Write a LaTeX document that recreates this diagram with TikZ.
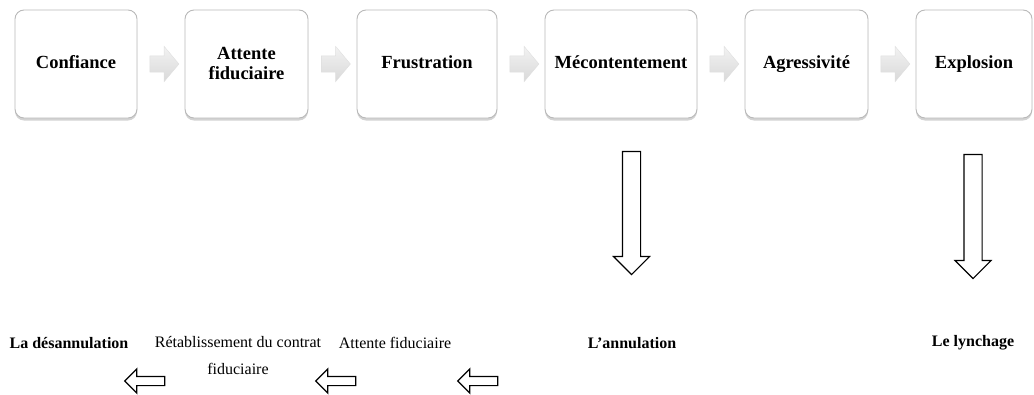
\documentclass[tikz,border=0pt]{standalone}
\usepackage{fontspec}
\setmainfont{Liberation Serif}
\usetikzlibrary{shapes.arrows,shadows,calc}

\begin{document}
\begin{tikzpicture}[x=1pt, y=-1pt,
    etape/.style={rectangle, rounded corners=9pt, draw=gray!55, line width=0.9pt,
        fill=white, minimum height=108pt, inner sep=2pt, align=center,
        font=\fontsize{18.5}{20}\selectfont\bfseries,
        drop shadow={shadow xshift=0pt, shadow yshift=-2.5pt, opacity=0.35}},
    uneligne/.style={text height=12.5pt, text depth=4pt},
    flechegrise/.style={single arrow, draw=gray!25, top color=gray!10, bottom color=gray!30,
        inner sep=8pt, minimum height=29pt, single arrow head extend=9.5pt,
        single arrow tip angle=100},
    flechebas/.style={single arrow, shape border rotate=270, draw=black, line width=1.1pt,
        fill=white, inner sep=8.5pt, single arrow head extend=9pt},
    flechegauche/.style={single arrow, shape border rotate=180, draw=black, line width=1.2pt,
        fill=white, inner sep=4pt, minimum height=40pt, single arrow head extend=7.5pt},
    issue/.style={font=\fontsize{16}{18}\selectfont\bfseries},
    retour/.style={font=\fontsize{16}{27}\selectfont, align=center}
]
    \useasboundingbox (0,0) rectangle (1034,394);
    % la chaine du haut
    \node[etape, uneligne, minimum width=122pt] (confiance) at (76,64) {Confiance};
    \node[etape, minimum width=123pt] (attente) at (246.5,64) {Attente\\fiduciaire};
    \node[etape, uneligne, minimum width=140pt] (frustration) at (427,64) {Frustration};
    \node[etape, uneligne, minimum width=152pt] (mecontent) at (621,64) {Mécontentement};
    \node[etape, uneligne, minimum width=123pt] (agressivite) at (806.5,64) {Agressivité};
    \node[etape, uneligne, minimum width=116pt] (explosion) at (974,64) {Explosion};
    \node[flechegrise] (f1) at ($(confiance.east)!0.5!(attente.west)$) {};
    \node[flechegrise] (f2) at ($(attente.east)!0.5!(frustration.west)$) {};
    \node[flechegrise] (f3) at ($(frustration.east)!0.5!(mecontent.west)$) {};
    \node[flechegrise] (f4) at ($(mecontent.east)!0.5!(agressivite.west)$) {};
    \node[flechegrise] (f5) at ($(agressivite.east)!0.5!(explosion.west)$) {};
    % les deux issues
    \node[flechebas, minimum height=123pt] (bas1) at (631.5,208.5) {};
    \node[flechebas, minimum height=124pt] (bas2) at (973,212) {};
    \node[issue] (annulation) at (632,343) {L’annulation};
    \node[issue] (lynchage) at (973,343) {Le lynchage};
    % le retour
    \node[retour] (attente2) at (395,343) {Attente fiduciaire};
    \node[retour, anchor=north] (retablir) at (238,333) {Rétablissement du contrat\\fiduciaire};
    \node[issue] (desannul) at (69,343) {La désannulation};
    \node[flechegauche] (g1) at (480,381) {};
    \node[flechegauche] (g2) at (338,381) {};
    \node[flechegauche] (g3) at (147,381) {};
\end{tikzpicture}
\end{document}
